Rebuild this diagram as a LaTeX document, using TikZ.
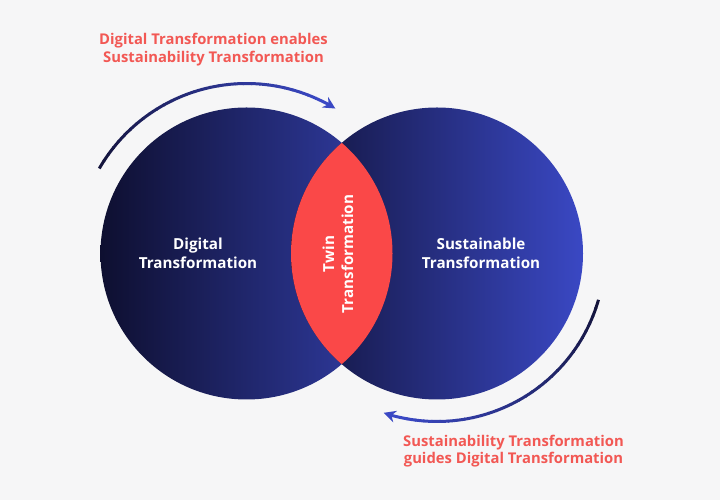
\documentclass[tikz,border=0pt]{standalone}
\usepackage{fontspec}
\setmainfont{Open Sans}
\usetikzlibrary{arrows.meta}
\definecolor{bgc}{RGB}{246,246,247}
\definecolor{navydark}{RGB}{14,15,48}
\definecolor{navyblue}{RGB}{50,62,168}
\definecolor{navydark2}{RGB}{18,20,60}
\definecolor{navyblue2}{RGB}{58,72,196}
\definecolor{lensred}{RGB}{250,72,72}
\definecolor{coral}{RGB}{242,88,84}
\definecolor{arcdark}{RGB}{20,20,60}
\definecolor{arcblue}{RGB}{58,72,196}
\begin{document}
\begin{tikzpicture}[x=1pt,y=1pt,
  circ/.style={circle, inner sep=0pt, minimum size=292pt},
  intext/.style={text=white, font=\bfseries\fontsize{15.2}{19}\selectfont, align=center},
  captext/.style={text=coral, font=\bfseries\fontsize{14.8}{17.5}\selectfont, align=center},
  arcseg/.style={line width=3pt}]
\fill[bgc] (0,0) rectangle (720,500);
\useasboundingbox (0,0) rectangle (720,500);
\coordinate (c1) at (246.5,246.5);
\coordinate (c2) at (437,246.5);
\node[circ, left color=navydark, right color=navyblue] (dt) at (c1) {};
\node[circ, left color=navydark2, right color=navyblue2] (st) at (c2) {};
\begin{scope}
  \clip (c1) circle (146);
  \fill[lensred] (c2) circle (146);
\end{scope}
\node[intext] (dtl) at (198,246.5) {Digital\\Transformation};
\node[intext] (stl) at (481,246.5) {Sustainable\\Transformation};
\node[intext, rotate=90] (twin) at (338,246) {Twin\\Transformation};
% top arc
\foreach \i in {0,...,29}{
  \pgfmathsetmacro\a{150-\i*(150-66)/30}
  \pgfmathsetmacro\b{150-(\i+1)*(150-66)/30-0.3}
  \pgfmathtruncatemacro\p{\i*100/30}
  \draw[arcseg, draw=arcblue!\p!arcdark] ([shift={(\a:170)}]c1) arc[start angle=\a, end angle=\b, radius=170];
}
\draw[arcseg, draw=arcblue, -{Stealth[length=12pt,width=12pt]}] ([shift={(66:170)}]c1) arc[start angle=66, end angle=58.5, radius=170];
% bottom arc
\foreach \i in {0,...,29}{
  \pgfmathsetmacro\a{-16-\i*(100-16)/30}
  \pgfmathsetmacro\b{-16-(\i+1)*(100-16)/30-0.3}
  \pgfmathtruncatemacro\p{\i*100/30}
  \draw[arcseg, draw=arcblue!\p!arcdark] ([shift={(\a:168)}]c2) arc[start angle=\a, end angle=\b, radius=168];
}
\draw[arcseg, draw=arcblue, -{Stealth[length=12pt,width=12pt]}] ([shift={(-100:168)}]c2) arc[start angle=-100, end angle=-108.5, radius=168];
\node[captext] (top) at (213.5,450.5) {Digital Transformation enables\\Sustainability Transformation};
\node[captext] (bot) at (513.5,49) {Sustainability Transformation\\guides Digital Transformation};
\end{tikzpicture}
\end{document}
